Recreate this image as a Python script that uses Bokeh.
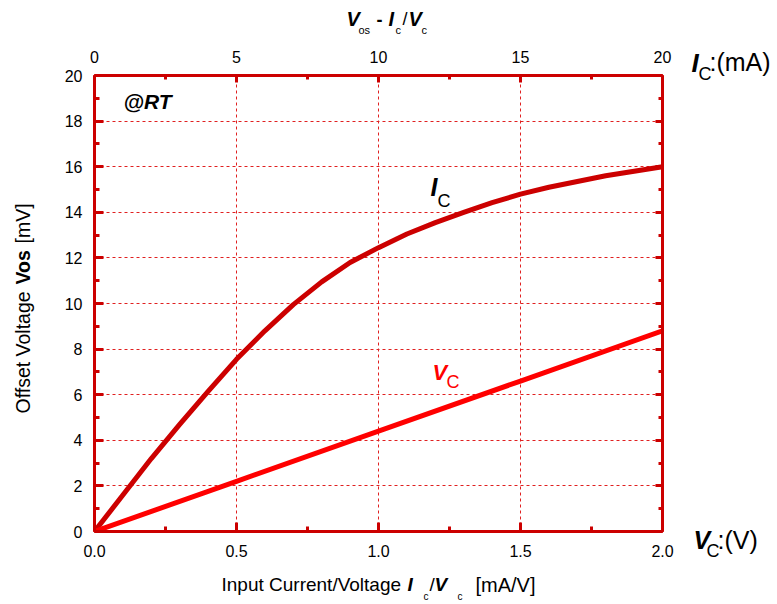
import numpy as np
from bokeh.plotting import figure
from bokeh.layouts import column, row
from bokeh.models import Range1d, LinearAxis, SingleIntervalTicker, Label, NumeralTickFormatter, Grid
from bokeh.embed import file_html
from bokeh.resources import INLINE

# ---- data ----
ic_x = [0.0, 0.1, 0.2, 0.3, 0.4, 0.5, 0.6, 0.7, 0.8, 0.9, 1.0, 1.1, 1.2, 1.3, 1.4, 1.5, 1.6, 1.7, 1.8, 1.9, 2.0]
ic_y = [0.0, 1.6, 3.2, 4.7, 6.15, 7.55, 8.8, 9.95, 10.95, 11.8, 12.45, 13.05, 13.55, 14.0, 14.42, 14.8, 15.1, 15.35, 15.6, 15.8, 16.0]
vc_x = [0.0, 0.5, 1.0, 1.5, 2.0]
vc_y = [0.0, 2.2, 4.4, 6.6, 8.8]
x_range = (0.0, 2.0)      # V_c (V) / bottom axis
y_range = (0.0, 20.0)     # Vos (mV)
top_range = (0.0, 20.0)   # I_c (mA) / top axis

FONT = "Liberation Sans"
AX = "#cc0000"
BASE_SHIFT = 0.35   # correction of the rendered baseline, in em

# ---- page layout (pixels) ----
TOTAL_W, TOTAL_H = 776, 603
TOP_H, BOT_H = 40, 35
MID_H = TOTAL_H - TOP_H - BOT_H
LEFT_W, RIGHT_W = 40, 91
MAIN_W = TOTAL_W - LEFT_W - RIGHT_W
F_L, F_R, F_T, F_B = 94, 662, 75, 531   # plot frame on the page


def strip(w, h):
    f = figure(width=w, height=h, x_range=Range1d(0, w), y_range=Range1d(h, 0),
               x_axis_type=None, y_axis_type=None, output_backend="svg",
               toolbar_location=None, min_border=0, frame_align=False)
    f.outline_line_color = None
    f.background_fill_color = "white"
    f.border_fill_color = "white"
    return f


def X(px):
    return x_range[0] + (px - F_L) / (F_R - F_L) * (x_range[1] - x_range[0])


def Y(py):
    return y_range[0] + (F_B - py) / (F_B - F_T) * (y_range[1] - y_range[0])


def txt(f, px, py, text, size, style="normal", color="black", rotated=False, data=False):
    """px, py: page position of the start of the text baseline."""
    d = BASE_SHIFT * size
    if rotated:
        px -= d
    else:
        py -= d
    x, y = (X(px), Y(py)) if data else (px, py)
    f.add_layout(Label(x=x, y=y, text=text, text_font=FONT, text_font_size=f"{size}px",
                       text_font_style=style, text_color=color, text_align="left",
                       text_baseline="alphabetic", angle=np.pi / 2 if rotated else 0.0))


# ---- main plot ----
m = figure(width=MAIN_W, height=MID_H, x_range=Range1d(*x_range), y_range=Range1d(*y_range),
           x_axis_type=None, y_axis_type=None, output_backend="svg", toolbar_location=None,
           min_border_left=F_L - LEFT_W, min_border_right=LEFT_W + MAIN_W - F_R,
           min_border_top=F_T - TOP_H, min_border_bottom=TOP_H + MID_H - F_B,
           frame_align=False)
m.outline_line_color = None
m.background_fill_color = "white"
m.border_fill_color = "white"
m.extra_x_ranges = {"top": Range1d(*top_range)}
m.extra_y_ranges = {"right": Range1d(*y_range)}

xt = SingleIntervalTicker(interval=0.5, num_minor_ticks=2)
yt = SingleIntervalTicker(interval=2, num_minor_ticks=2)
tt = SingleIntervalTicker(interval=5, num_minor_ticks=2)
rt = SingleIntervalTicker(interval=2, num_minor_ticks=2)

bottom_axis = LinearAxis(ticker=xt, formatter=NumeralTickFormatter(format="0.0"))
left_axis = LinearAxis(ticker=yt)
top_axis = LinearAxis(x_range_name="top", ticker=tt)
right_axis = LinearAxis(y_range_name="right", ticker=rt)

for ax in [bottom_axis, left_axis, top_axis, right_axis]:
    ax.axis_line_color = AX
    ax.axis_line_width = 3
    ax.major_tick_line_color = AX
    ax.minor_tick_line_color = AX
    ax.major_tick_line_width = 3
    ax.minor_tick_line_width = 3
    ax.major_tick_out = 0
    ax.minor_tick_out = 0
    ax.major_tick_in = 9
    ax.minor_tick_in = 5
    ax.major_label_text_font = FONT
    ax.major_label_text_font_size = "16px"
    ax.major_label_text_color = "black"
    ax.major_label_standoff = 12
for ax in [top_axis, right_axis]:
    ax.major_tick_in = 7
    ax.minor_tick_in = 4
bottom_axis.major_label_standoff = 13
top_axis.major_label_standoff = 13
right_axis.major_label_text_color = None
right_axis.major_label_text_font_size = "1px"
right_axis.major_label_standoff = 0

m.add_layout(bottom_axis, "below")
m.add_layout(left_axis, "left")
m.add_layout(top_axis, "above")
m.add_layout(right_axis, "right")

for dim, tk in [(0, xt), (1, yt)]:
    m.add_layout(Grid(dimension=dim, ticker=tk, grid_line_color="#e02020",
                      grid_line_width=1, grid_line_dash="3 3"))

m.line(ic_x, ic_y, line_color="#cc0000", line_width=5, line_join="round")
m.line(vc_x, vc_y, line_color="#ff0000", line_width=5)

txt(m, 123, 108, "@RT", 21, "bold italic", data=True)
txt(m, 430, 195, "I", 25, "bold italic", data=True)
txt(m, 437, 207, "C", 18, data=True)
txt(m, 432, 380, "V", 22, "bold italic", "#ff0000", data=True)
txt(m, 446, 388, "C", 18, "normal", "#ff0000", data=True)

# ---- top strip: V_os - I_c/V_c ----
top = strip(TOTAL_W, TOP_H)
txt(top, 346, 25, "V", 20, "bold italic")
txt(top, 358, 33, "os", 11)
txt(top, 376, 25, "-", 18, "bold")
txt(top, 388, 25, "I", 20, "bold italic")
txt(top, 395, 33, "c", 11)
txt(top, 402, 25, "/", 18)
txt(top, 408, 25, "V", 20, "bold italic")
txt(top, 421, 33, "c", 11)

# ---- left strip: y-axis title (rotated, page coords shifted into the strip) ----
left = strip(LEFT_W, MID_H)
txt(left, 29, 413 - TOP_H, "Offset Voltage", 19.5, rotated=True)
txt(left, 29, 284 - TOP_H, "Vos", 19.5, "bold", rotated=True)
txt(left, 29, 243 - TOP_H, "[mV]", 19.5, rotated=True)

# ---- right strip: unit labels ----
right = strip(RIGHT_W, MID_H)
ox = LEFT_W + MAIN_W
txt(right, 691 - ox, 72 - TOP_H, "I", 26, "bold italic")
txt(right, 698 - ox, 80 - TOP_H, "C", 18)
txt(right, 709 - ox, 70 - TOP_H, ":(mA)", 25)
txt(right, 693 - ox, 548 - TOP_H, "V", 25, "bold italic")
txt(right, 706 - ox, 557 - TOP_H, "C", 18)
txt(right, 717 - ox, 548 - TOP_H, ":(V)", 25)

# ---- bottom strip: x-axis title ----
bot = strip(TOTAL_W, BOT_H)
oy = TOP_H + MID_H
txt(bot, 221, 591 - oy, "Input Current/Voltage", 19)
txt(bot, 407, 591 - oy, "I", 19, "bold italic")
txt(bot, 423, 599 - oy, "c", 10)
txt(bot, 429, 591 - oy, "/", 19)
txt(bot, 434, 591 - oy, "V", 19, "bold italic")
txt(bot, 457, 599 - oy, "c", 10)
txt(bot, 475, 591 - oy, "[mA/V]", 20)

layout = column(top, row(left, m, right, spacing=0), bot, spacing=0)
open("out.html", "w").write(file_html(layout, INLINE))
